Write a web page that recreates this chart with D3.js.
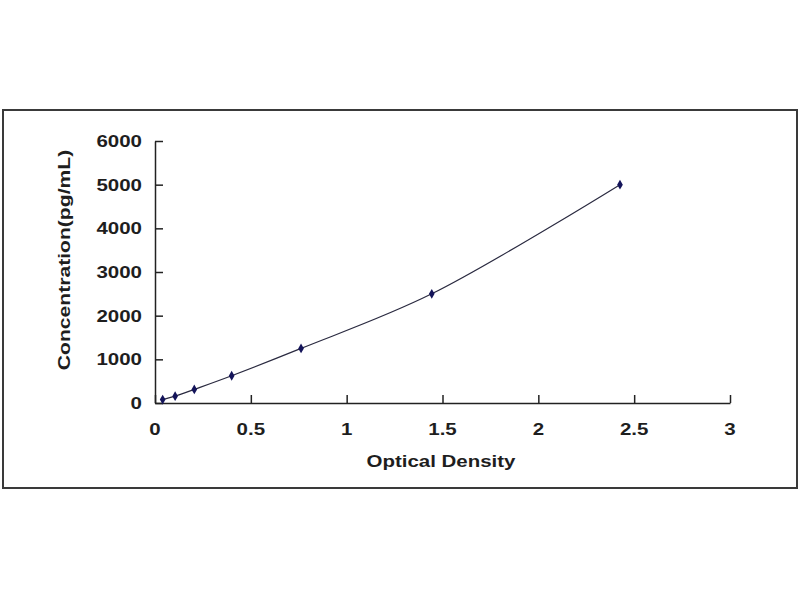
<!DOCTYPE html>
<html>
<head>
<meta charset="utf-8">
<script src="https://cdn.jsdelivr.net/npm/d3@7"></script>
<style>
  body { margin: 0; background: #fff; }
  svg { display: block; }
  text { font-family: "Liberation Sans", Arial, sans-serif; font-weight: bold; fill: #1e1e1e; }
</style>
</head>
<body>
<script>
// standard curve points
const opticalDensity = [0.04, 0.105, 0.205, 0.40, 0.762, 1.444, 2.426];
const concentration = [78, 156, 312, 625, 1250, 2500, 5000];
const xTicks = [0, 0.5, 1, 1.5, 2, 2.5, 3];
const yTicks = [0, 1000, 2000, 3000, 4000, 5000, 6000];

const width = 800, height = 600;
const stretch = 1.28; // the lettering in the picture is wide

const svg = d3.select("body").append("svg")
    .attr("width", width)
    .attr("height", height);

// outer frame
svg.append("rect")
    .attr("x", 3).attr("y", 110)
    .attr("width", 794).attr("height", 378)
    .attr("fill", "none")
    .attr("stroke", "#3a3a3a")
    .attr("stroke-width", 2);

const x = d3.scaleLinear().domain([0, 3]).range([155, 730]);
const y = d3.scaleLinear().domain([0, 6000]).range([403, 141]);

// axes, ticks point inwards
svg.append("g")
    .attr("transform", `translate(0,${y(0)})`)
    .call(d3.axisBottom(x).tickValues(xTicks).tickFormat("").tickSizeInner(-8).tickSizeOuter(0))
    .call(g => g.selectAll("path, line").attr("stroke", "#222").attr("stroke-width", 1.5));

svg.append("g")
    .attr("transform", `translate(${x(0)},0)`)
    .call(d3.axisLeft(y).tickValues(yTicks).tickFormat("").tickSizeInner(-8).tickSizeOuter(0))
    .call(g => g.selectAll("path, line").attr("stroke", "#222").attr("stroke-width", 1.5));

// tick labels
svg.append("g").selectAll("text")
    .data(xTicks)
    .join("text")
    .attr("transform", d => `translate(${x(d)},435) scale(${stretch},1)`)
    .attr("text-anchor", "middle")
    .style("font-size", "16px")
    .text(d => d);

svg.append("g").selectAll("text")
    .data(yTicks)
    .join("text")
    .attr("transform", d => `translate(142,${y(d) + 6}) scale(${stretch},1)`)
    .attr("text-anchor", "end")
    .style("font-size", "16px")
    .text(d => d);

// axis titles
svg.append("text")
    .attr("transform", `translate(441,467) scale(${stretch},1)`)
    .attr("text-anchor", "middle")
    .style("font-size", "16px")
    .text("Optical Density");

svg.append("text")
    .attr("transform", `translate(70,260) rotate(-90) scale(1.32,1)`)
    .attr("text-anchor", "middle")
    .style("font-size", "16px")
    .text("Concentration(pg/mL)");

// fitted curve
const points = opticalDensity.map((d, i) => [d, concentration[i]]);

const line = d3.line()
    .x(d => x(d[0]))
    .y(d => y(d[1]))
    .curve(d3.curveCatmullRom.alpha(0.5));

svg.append("path")
    .datum(points)
    .attr("fill", "none")
    .attr("stroke", "#2a2a40")
    .attr("stroke-width", 1.2)
    .attr("d", line);

// diamond markers
svg.append("g").selectAll("path")
    .data(points)
    .join("path")
    .attr("transform", d => `translate(${x(d[0])},${y(d[1])})`)
    .attr("d", d3.symbol(d3.symbolDiamond, 28))
    .attr("fill", "#14145a");
</script>
</body>
</html>
